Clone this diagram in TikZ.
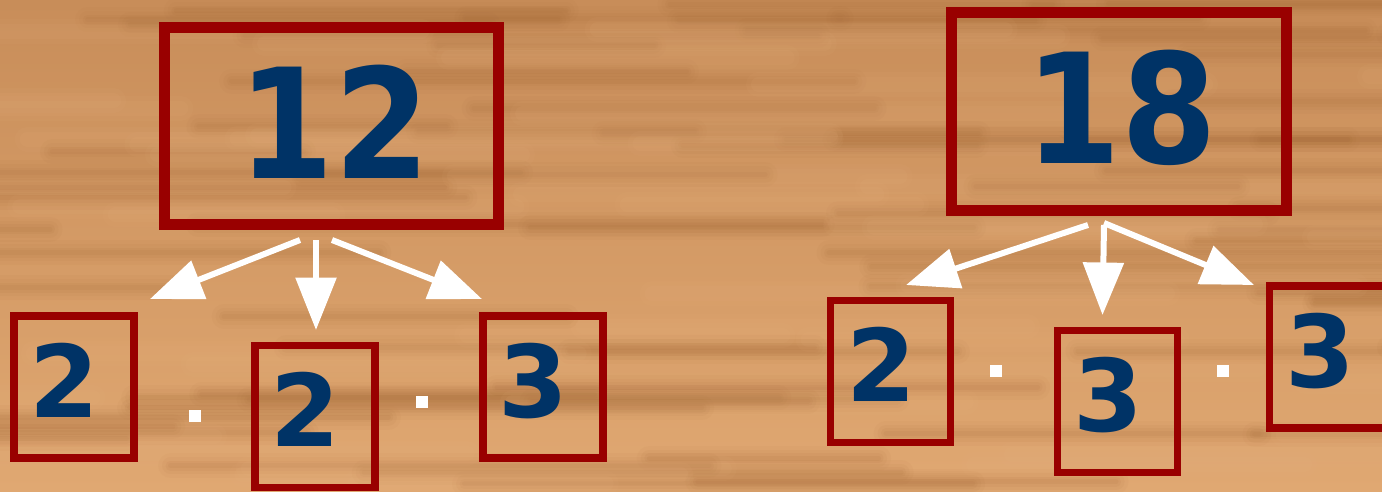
\documentclass[tikz,border=0pt]{standalone}
\usepackage{fontspec}
\setsansfont{DejaVu Sans}
\newfontfamily\bignum[FakeStretch=0.9]{DejaVu Sans Bold}
\usetikzlibrary{arrows.meta,positioning,calc}
\definecolor{woodtop}{HTML}{C88D59}
\definecolor{woodbot}{HTML}{E0A872}
\definecolor{wooddark}{HTML}{A56A38}
\definecolor{woodlight}{HTML}{EAB684}
\definecolor{boxred}{HTML}{990000}
\definecolor{numblue}{HTML}{003366}
\tikzset{
  % the number being split
  bigbox/.style={draw=boxred, line width=0.22cm, minimum width=6.7cm,
    minimum height=3.95cm, inner sep=0pt, text=numblue,
    font=\bignum\fontsize{87}{87}\selectfont,
    text depth=0.18cm, execute at begin node=\kern0.1cm},
  % one prime factor
  factbox/.style={draw=boxred, line width=0.15cm, minimum width=2.4cm,
    minimum height=2.84cm, inner sep=0pt, text=numblue,
    font=\sffamily\bfseries\fontsize{57}{57}\selectfont,
    text depth=0.28cm, execute at end node=\kern0.38cm},
  split/.style={-{Triangle[length=1.05cm,width=0.8cm]}, line width=0.12cm, white},
  times/.style={fill=white, minimum size=0.24cm, inner sep=0pt},
  grain/.style={line cap=round},
}

\begin{document}
\begin{tikzpicture}[x=0.02cm,y=-0.02cm]
  \useasboundingbox (0,0) rectangle (1382,491);
  \clip (0,0) rectangle (1382,491);
  % wood board, soft horizontal grain
  \shade[top color=woodtop, bottom color=woodbot] (0,0) rectangle (1382,491);
  \pgfmathsetseed{23}
  \foreach \i in {1,...,70} {
    \pgfmathsetmacro{\gx}{rnd*1600-200}
    \pgfmathsetmacro{\gy}{rnd*491}
    \pgfmathsetmacro{\gl}{200+rnd*450}
    \foreach \w/\o in {0.5/0.05, 0.34/0.06, 0.2/0.08, 0.1/0.09}
      \draw[grain, wooddark, opacity=\o, line width=\w cm] (\gx,\gy) -- ++(\gl,0);
  }
  \foreach \i in {1,...,45} {
    \pgfmathsetmacro{\gx}{rnd*1600-200}
    \pgfmathsetmacro{\gy}{rnd*491}
    \pgfmathsetmacro{\gl}{200+rnd*400}
    \foreach \w/\o in {0.5/0.06, 0.3/0.08}
      \draw[grain, woodlight, opacity=\o, line width=\w cm] (\gx,\gy) -- ++(\gl,0);
  }

  % 12 = 2 . 2 . 3
  \node[bigbox] (b12) at (331.5,126) {12};
  \node[factbox] (f12a) at (74,387) {2};
  \node[factbox] (f12b) at (315,416.5) {2};
  \node[factbox] (f12c) at (543,387) {3};
  \node[times] (m12a) at (195,416) {};
  \node[times] (m12b) at (422,402) {};
  \coordinate (s12a) at (300,240);
  \coordinate (s12b) at (316,240);
  \coordinate (s12c) at (332,240);
  \coordinate (t12a) at (150,299);
  \coordinate (t12b) at (316,330);
  \coordinate (t12c) at (482,299);
  \foreach \k in {a,b,c}
    \draw[split] (s12\k) -- (t12\k);

  % 18 = 2 . 3 . 3
  \node[bigbox] (b18) at (1119,111.5) {18};
  \node[factbox] (f18a) at (890.5,371.5) {2};
  \node[factbox] (f18b) at (1117.5,401.5) {3};
  \node[factbox] (f18c) at (1329.5,357) {3};
  \node[times] (m18a) at (996,371) {};
  \node[times] (m18b) at (1223,371) {};
  \coordinate (s18a) at (1088,225);
  \coordinate (s18b) at (1104,225);
  \coordinate (s18c) at (1104,223);
  \coordinate (t18a) at (906,285);
  \coordinate (t18b) at (1102.5,315);
  \coordinate (t18c) at (1254,285);
  \foreach \k in {a,b,c}
    \draw[split] (s18\k) -- (t18\k);
\end{tikzpicture}
\end{document}
